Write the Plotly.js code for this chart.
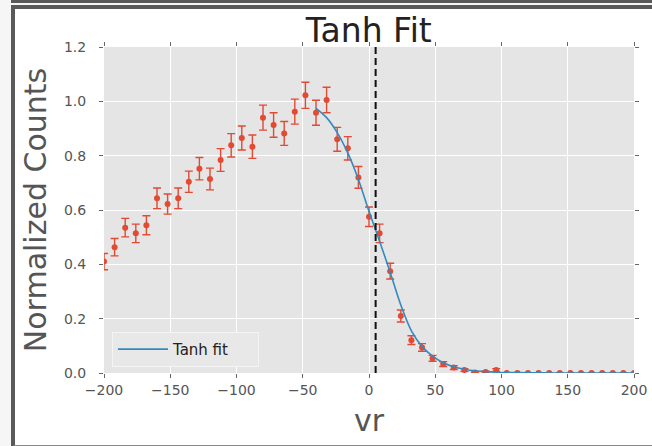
<!DOCTYPE html>
<html>
<head>
<meta charset="utf-8">
<script src="https://cdn.plot.ly/plotly-3.0.1.min.js"></script>
<style>
  html, body { margin: 0; padding: 0; width: 652px; height: 446px; overflow: hidden; background: #f6f6f6; }
  #topband { position: absolute; left: 11px; top: 0; width: 641px; height: 3px; background: #5a5a5a; }
  #frame { position: absolute; left: 11px; top: 5px; width: 637px; height: 436px;
           background: #ffffff; border-left: 4px solid #5a5a5a; border-top: 4px solid #5a5a5a;
           border-bottom: 2px solid #8a8a8a; }
  #chart { position: absolute; left: 0; top: 0; width: 652px; height: 446px; }
</style>
</head>
<body>
<div id="topband"></div>
<div id="frame"></div>
<div id="chart"></div>
<script>
// Binned radial-velocity counts (bin centres every 8 units), normalised
const binCenters = [-200, -192, -184, -176, -168, -160, -152, -144, -136, -128,
                    -120, -112, -104, -96, -88, -80, -72, -64, -56, -48,
                    -40, -32, -24, -16, -8, 0, 8, 16, 24, 32,
                    40, 48, 56, 64, 72, 80, 88, 96, 104, 112,
                    120, 128, 136, 144, 152, 160, 168, 176, 184, 192, 200];
const normCounts = [0.410, 0.463, 0.535, 0.514, 0.544, 0.643, 0.622, 0.643, 0.704, 0.752,
                    0.714, 0.784, 0.838, 0.865, 0.833, 0.940, 0.913, 0.882, 0.962, 1.022,
                    0.958, 1.005, 0.860, 0.827, 0.720, 0.575, 0.514, 0.375, 0.210, 0.121,
                    0.094, 0.054, 0.033, 0.020, 0.011, 0.002, 0.004, 0.011, 0, 0,
                    0, 0, 0, 0, 0, 0, 0, 0, 0, 0, 0];
const countErrors = [0.030, 0.032, 0.034, 0.034, 0.035, 0.038, 0.037, 0.038, 0.039, 0.041,
                     0.040, 0.042, 0.043, 0.044, 0.043, 0.046, 0.045, 0.044, 0.046, 0.048,
                     0.046, 0.047, 0.044, 0.043, 0.040, 0.036, 0.034, 0.029, 0.022, 0.016,
                     0.014, 0.011, 0.009, 0.007, 0.005, 0.002, 0.003, 0.005, 0, 0,
                     0, 0, 0, 0, 0, 0, 0, 0, 0, 0, 0];

// Tanh fit curve, evaluated over the fitted range
const fitX = [-40, -32, -24, -16, -8, 0, 8, 16, 24, 32, 40, 48, 56, 64, 72, 80, 88, 96,
              104, 120, 140, 160, 180, 200];
const fitY = [0.974, 0.940, 0.885, 0.810, 0.712, 0.595, 0.485, 0.370, 0.250, 0.155, 0.098,
              0.062, 0.038, 0.023, 0.014, 0.008, 0.005, 0.003, 0.002, 0.001, 0, 0, 0, 0];

// Fitted midpoint
const midpoint = 5;

const xTicks = [-200, -150, -100, -50, 0, 50, 100, 150, 200];
const yTicks = [0.0, 0.2, 0.4, 0.6, 0.8, 1.0, 1.2];

const red = '#E24A33';
const blue = '#348ABD';
const grey = '#555555';
const font = 'DejaVu Sans, sans-serif';

const traces = [
  {
    x: binCenters, y: normCounts, type: 'scatter', mode: 'markers', name: 'data',
    showlegend: false,
    marker: { color: red, size: 6 },
    error_y: { type: 'data', array: countErrors, visible: true, color: red, thickness: 1.4, width: 4 },
    cliponaxis: true
  },
  {
    x: fitX, y: fitY, type: 'scatter', mode: 'lines', name: 'Tanh fit',
    line: { color: blue, width: 1.6, shape: 'spline', smoothing: 0.8 },
    cliponaxis: true
  }
];

const layout = {
  width: 652, height: 446,
  margin: { l: 104, r: 18, t: 47, b: 73 },
  paper_bgcolor: 'rgba(0,0,0,0)',
  plot_bgcolor: '#E5E5E5',
  font: { family: font, color: grey, size: 14 },
  title: {
    text: 'Tanh Fit', x: 0.5657, xanchor: 'center', y: 0.932, yanchor: 'middle',
    font: { family: font, size: 33, color: '#222222' }
  },
  xaxis: {
    range: [-200, 200], tickvals: xTicks, ticktext: xTicks.map(v => v < 0 ? '\u2212' + Math.abs(v) : String(v)),
    showgrid: true, gridcolor: '#ffffff', gridwidth: 1, zeroline: false, showline: false,
    ticks: 'outside', ticklen: 4, tickcolor: '#666666', mirror: 'ticks',
    tickfont: { family: font, size: 14, color: grey },
    title: { text: 'vr', font: { family: font, size: 30, color: grey }, standoff: 13 }
  },
  yaxis: {
    range: [0, 1.2], tickvals: yTicks, ticktext: yTicks.map(v => v.toFixed(1)),
    showgrid: true, gridcolor: '#ffffff', gridwidth: 1, zeroline: false, showline: false,
    ticks: 'outside', ticklen: 4, tickcolor: '#666666', mirror: 'ticks',
    ticklabelstandoff: 10,
    tickfont: { family: font, size: 14, color: grey },
    title: { text: 'Normalized Counts', font: { family: font, size: 30, color: grey }, standoff: 8 }
  },
  shapes: [{
    type: 'line', xref: 'x', yref: 'paper', x0: midpoint, x1: midpoint, y0: 0, y1: 1,
    line: { color: '#111111', width: 2, dash: '7px,4px' }
  }],
  legend: {
    orientation: 'h',
    x: 0.015, y: 0.126, xanchor: 'left', yanchor: 'top',
    bgcolor: '#E8E8E8', bordercolor: '#f4f4f4', borderwidth: 1,
    font: { family: font, size: 15, color: '#222222' },
    itemwidth: 50, entrywidth: 80
  },
  showlegend: true
};

Plotly.newPlot('chart', traces, layout, { displayModeBar: false, staticPlot: true });
</script>
</body>
</html>
